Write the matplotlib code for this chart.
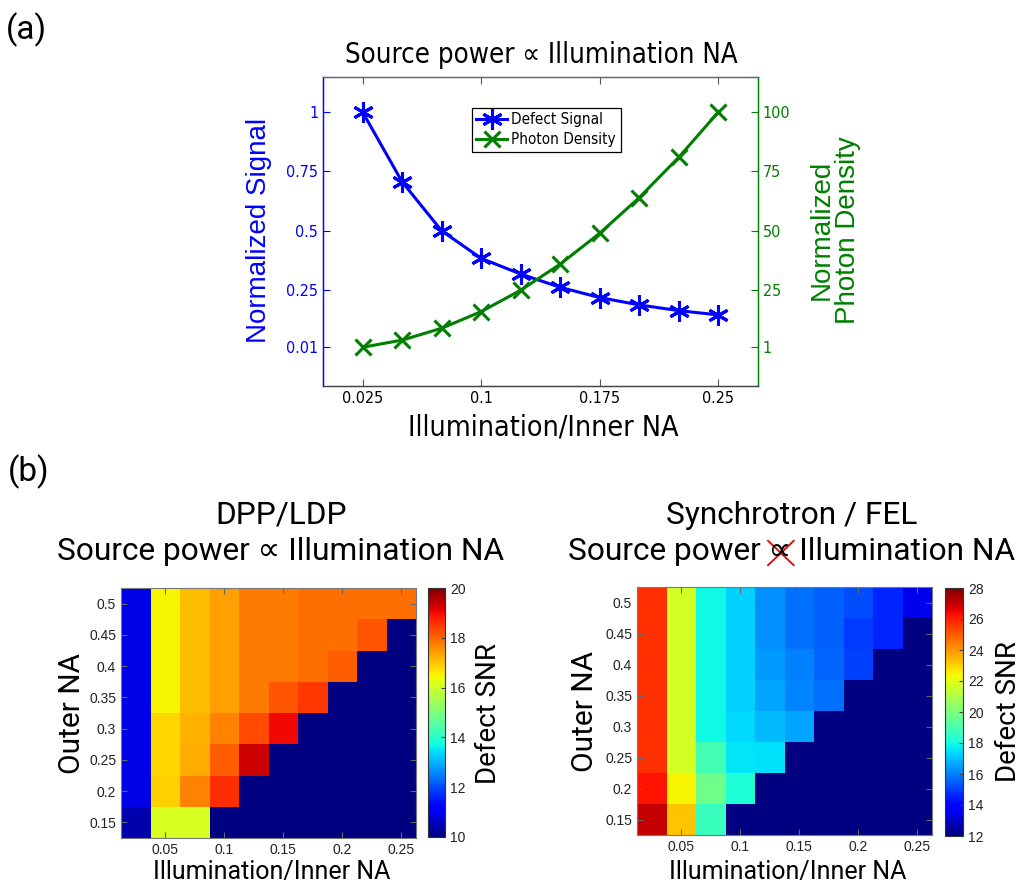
import matplotlib
matplotlib.use("Agg")
import matplotlib.pyplot as plt
import numpy as np
from matplotlib.lines import Line2D

# ---- data -------------------------------------------------------------
inner_na = [0.025, 0.05, 0.075, 0.1, 0.125, 0.15, 0.175, 0.2, 0.225, 0.25]
defect_signal = [1.0, 0.706, 0.50, 0.384, 0.318, 0.262, 0.219, 0.188, 0.164, 0.146]
photon_density = [1, 4, 9, 16, 25, 36, 49, 64, 81, 100]

outer_na = [0.5, 0.45, 0.4, 0.35, 0.3, 0.25, 0.2, 0.15]   # rows, top to bottom
nan = np.nan
snr_dpp = [
    [10.9, 16.5, 17.1, 17.4, 17.8, 17.8, 17.9, 17.9, 17.9, 17.9],
    [10.9, 16.5, 17.1, 17.4, 17.8, 17.8, 17.9, 17.9, 18.2, nan],
    [10.9, 16.5, 17.1, 17.4, 17.8, 17.8, 17.9, 18.1, nan, nan],
    [10.9, 16.5, 17.1, 17.4, 17.8, 18.2, 18.5, nan, nan, nan],
    [10.9, 16.8, 17.2, 17.7, 18.3, 19.0, nan, nan, nan, nan],
    [10.9, 16.8, 17.3, 18.1, 19.3, nan, nan, nan, nan, nan],
    [10.9, 16.9, 17.7, 18.6, nan, nan, nan, nan, nan, nan],
    [10.4, 16.1, 16.1, nan, nan, nan, nan, nan, nan, nan],
]
snr_sync = [
    [25.7, 21.7, 17.9, 17.3, 16.3, 15.8, 15.5, 15.2, 14.6, 13.5],
    [25.7, 21.7, 17.9, 17.3, 16.3, 15.8, 15.5, 14.9, 14.6, nan],
    [25.7, 21.7, 17.9, 17.3, 16.4, 16.0, 15.6, 15.0, nan, nan],
    [25.7, 21.7, 17.9, 17.3, 16.6, 16.1, 15.8, nan, nan, nan],
    [25.7, 21.7, 17.9, 17.4, 16.9, 16.6, nan, nan, nan, nan],
    [25.7, 21.7, 18.9, 17.6, 17.5, nan, nan, nan, nan, nan],
    [26.2, 22.4, 19.7, 18.2, nan, nan, nan, nan, nan, nan],
    [27.0, 23.2, 18.7, nan, nan, nan, nan, nan, nan, nan],
]

# ---- fonts ------------------------------------------------------------
NARROW = dict(family='DejaVu Sans', stretch='condensed')
ARIAL = 'Liberation Sans'
ROBOTO = 'Roboto'
SYM = 'DejaVu Sans'

W, H = 1021, 883
fig = plt.figure(figsize=(W / 100, H / 100), dpi=100)


def box(x0, y0, x1, y1):
    # pixel box (top-left origin) -> figure fraction rect
    return [x0 / W, 1 - y1 / H, (x1 - x0) / W, (y1 - y0) / H]


def fx(x):
    return x / W


def fy(y):
    return 1 - y / H


blue = '#0000ff'
green = '#007f00'

# ---- (a) line plot ----------------------------------------------------
ax = fig.add_axes(box(323, 77, 758, 386))
ax2 = ax.twinx()
star = (6, 2, 0)
l1, = ax.plot(inner_na, defect_signal, color=blue, lw=2.2, marker=star,
              ms=15, mew=2.2, label='Defect Signal')
l2, = ax2.plot(inner_na, photon_density, color=green, lw=2.2, marker='x',
               ms=11, mew=2.2, label='Photon Density')
ax.set_xlim(0, 0.275)
ax.set_ylim(-0.153, 1.147)
ax2.set_ylim(-15.3, 114.7)
ax.set_xticks([0.025, 0.1, 0.175, 0.25])
ax.set_xticklabels(['0.025', '0.1', '0.175', '0.25'], fontsize=11.5, **NARROW)
ax.set_yticks([0.01, 0.25, 0.5, 0.75, 1])
ax.set_yticklabels(['0.01', '0.25', '0.5', '0.75', '1'], fontsize=11.5,
                   color=blue, **NARROW)
ax2.set_yticks([1, 25, 50, 75, 100])
ax2.set_yticklabels(['1', '25', '50', '75', '100'], fontsize=11.5,
                    color=green, **NARROW)
ax.tick_params(axis='x', direction='in', top=True, length=5, color='#555555')
ax.tick_params(axis='y', direction='in', length=5, color=blue)
ax2.tick_params(axis='y', direction='in', length=5, color=green)
for a in (ax, ax2):
    a.spines['left'].set_color(blue)
    a.spines['right'].set_color(green)
    a.spines['top'].set_color('#666666')
    a.spines['bottom'].set_color('#444444')
    for s in a.spines.values():
        s.set_linewidth(0.9)
leg = ax.legend([l1, l2], ['Defect Signal', 'Photon Density'], loc='upper center',
                bbox_to_anchor=(0.513, 0.926), fancybox=False, edgecolor='black',
                framealpha=1, prop=dict(size=11, **NARROW),
                handlelength=2.0, handletextpad=0.3, borderpad=0.3,
                labelspacing=0.35)
leg.get_frame().set_linewidth(0.9)

fig.text(fx(541), fy(55), 'Source power \u221d Illumination NA',
         fontsize=19.8, ha='center', va='center', **NARROW)
fig.text(fx(543), fy(427), 'Illumination/Inner NA', fontsize=20.5,
         ha='center', va='center', **NARROW)
fig.text(fx(259), fy(230), 'Normalized Signal', family=ARIAL, fontsize=20,
         color=blue, rotation=90, ha='center', va='center')
fig.text(fx(835), fy(230), 'Normalized\nPhoton Density', family=ARIAL,
         fontsize=20, color=green, rotation=90, ha='center', va='center',
         multialignment='center', linespacing=1.0)

fig.text(fx(6), fy(30), '(a)', family=ROBOTO, fontsize=24, va='center')
fig.text(fx(8), fy(472), '(b)', family=ROBOTO, fontsize=24, va='center')

# ---- (b) heatmaps -----------------------------------------------------
cmap = plt.get_cmap('jet').copy()
cmap.set_bad(cmap(0.0))


def heatmap(axbox, cbox, values, vmin, vmax, cticks):
    hax = fig.add_axes(axbox)
    z = np.ma.masked_invalid(np.array(values)[::-1])
    m = hax.pcolormesh(inner_na, outer_na[::-1], z, cmap=cmap, vmin=vmin,
                       vmax=vmax, shading='nearest')
    hax.set_xticks([0.05, 0.1, 0.15, 0.2, 0.25])
    hax.set_xticklabels(['0.05', '0.1', '0.15', '0.2', '0.25'])
    hax.set_yticks([0.15, 0.2, 0.25, 0.3, 0.35, 0.4, 0.45, 0.5])
    hax.set_yticklabels(['0.15', '0.2', '0.25', '0.3', '0.35', '0.4', '0.45', '0.5'])
    hax.tick_params(direction='in', top=True, right=True, length=4,
                    color='#666666', labelsize=10, labelcolor='#222222')
    for lab in hax.get_xticklabels() + hax.get_yticklabels():
        lab.set_family(ARIAL)
    for s in hax.spines.values():
        s.set_color('#777777')
        s.set_linewidth(0.8)
    cax = fig.add_axes(cbox)
    cb = fig.colorbar(m, cax=cax, ticks=cticks)
    cb.ax.tick_params(direction='in', length=3, color='#444444', labelsize=10,
                      labelcolor='#222222')
    for lab in cb.ax.get_yticklabels():
        lab.set_family(ARIAL)
    cb.outline.set_linewidth(0.8)
    cb.outline.set_edgecolor('#333333')
    return hax


heatmap(box(121, 588, 416, 838), box(428, 588, 445, 837), snr_dpp, 10, 20,
        [10, 12, 14, 16, 18, 20])
heatmap(box(637, 587, 932, 835), box(945, 588, 963, 836), snr_sync, 12, 28,
        [12, 14, 16, 18, 20, 22, 24, 26, 28])

title_kw = dict(family=[ROBOTO, SYM], fontsize=22.8, ha='center', va='center')
fig.text(fx(281), fy(515), 'DPP/LDP', **title_kw)
fig.text(fx(281), fy(552), 'Source power \u221d Illumination NA', **title_kw)
fig.text(fx(792), fy(515), 'Synchrotron / FEL', **title_kw)
line2 = fig.text(fx(792), fy(552), 'Source power \u221d Illumination NA', **title_kw)

for xc, yc in ((72, 713), (585, 712)):
    fig.text(fx(xc), fy(yc), 'Outer NA', family=ROBOTO, fontsize=21.5,
             rotation=90, ha='center', va='center')
for xc, yc in ((488, 713), (1008, 711)):
    fig.text(fx(xc), fy(yc), 'Defect SNR', family=ROBOTO, fontsize=20,
             rotation=90, ha='center', va='center')
for xc, yc in ((272, 872), (788, 872)):
    fig.text(fx(xc), fy(yc), 'Illumination/Inner NA', family=ROBOTO,
             fontsize=18, ha='center', va='center')

# red cross over the proportional sign
fig.canvas.draw()
r = fig.canvas.get_renderer()
bb = line2.get_window_extent(r)
pre = fig.text(0, 0, 'Source power \u221d', **title_kw)
sym = fig.text(0, 0, '\u221d', **title_kw)
wpre = pre.get_window_extent(r).width
bsym = sym.get_window_extent(r)
pre.remove()
sym.remove()
x1 = bb.x0 + wpre
x0 = x1 - bsym.width
yc = (bb.y0 + bb.y1) / 2 - 1
h = bsym.height * 0.42
for ya, yb in ((yc + h, yc - h), (yc - h, yc + h)):
    fig.add_artist(Line2D([x0 - 1, x1 + 2], [ya, yb], color='#dd1111', lw=1.4,
                          transform=None))

fig.savefig('out.png', dpi=100)
